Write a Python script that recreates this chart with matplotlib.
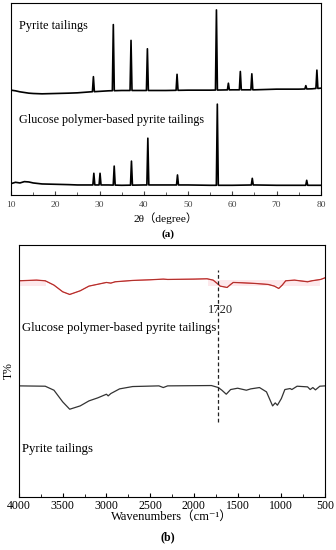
import matplotlib
matplotlib.use('Agg')
import matplotlib.pyplot as plt
from matplotlib.ticker import MultipleLocator

plt.rcParams['font.family'] = ['Liberation Serif', 'DejaVu Serif', 'Noto Sans CJK SC']

# (a) XRD: baseline points and peaks (arbitrary intensity units)
base_2theta = [10, 11, 12, 13, 14, 15, 17, 20, 23, 25, 28, 32, 35, 40, 45, 50, 55, 60, 65, 70, 75, 78, 80]
pyrite_base = [314, 312, 309, 307, 305, 304, 303, 304, 305, 306, 309, 312, 313, 313, 313, 314, 314, 315, 315, 317, 317, 318, 320]
glucose_base = [34, 38, 36, 40, 39, 36, 33, 32, 31, 30, 30, 30, 29, 30, 30, 30, 29, 29, 30, 29, 29, 29, 29]

pyrite_peaks = [28.6, 33.1, 37.1, 40.8, 47.5, 56.4, 59.1, 61.8, 64.4, 76.6, 79.1]
pyrite_heights = [45, 198, 150, 125, 48, 240, 20, 55, 48, 10, 55]
glucose_peaks = [28.7, 30.1, 33.3, 37.2, 40.9, 47.6, 56.6, 64.5, 76.8]
glucose_heights = [35, 35, 57, 72, 140, 30, 243, 20, 15]

# (b) FTIR: transmittance (arbitrary units, offset curves)
ftir_glucose_wn = [4000, 3800, 3700, 3600, 3500, 3420, 3300, 3200, 3000, 2950, 2900, 2700, 2500, 2350, 2300,
                   2000, 1850, 1780, 1720, 1700, 1660, 1620, 1580, 1550, 1450, 1300, 1150, 1080, 1030, 990,
                   950, 850, 700, 650, 550, 500]
ftir_glucose_t = [648, 650, 648, 635, 615, 607, 618, 632, 643, 641, 645, 649, 651, 653, 652,
                  653, 654, 650, 637, 632, 630, 628, 637, 643, 642, 640, 637, 632, 625, 635,
                  648, 650, 645, 648, 652, 657]
ftir_pyrite_wn = [4000, 3700, 3600, 3500, 3420, 3300, 3200, 3100, 3000, 2980, 2950, 2850, 2700, 2400, 2350,
                  2300, 1800, 1720, 1680, 1630, 1580, 1500, 1400, 1350, 1250, 1170, 1120, 1100, 1070, 1045,
                  1000, 960, 900, 880, 820, 700, 670, 640, 610, 560, 500]
ftir_pyrite_t = [333, 332, 320, 285, 263, 273, 288, 297, 308, 303, 310, 324, 331, 333, 328,
                 333, 334, 328, 320, 308, 322, 326, 320, 324, 328, 315, 285, 273, 282, 275,
                 295, 322, 325, 322, 332, 330, 322, 328, 321, 332, 333]
marker_wn = 1720


def xrd_profile(base_x, base_y, peaks, heights, w=0.22):
    # baseline plus narrow triangular peaks sitting on it
    pts = list(zip(base_x, base_y))
    for p, h in zip(peaks, heights):
        b = base_y[0]
        for i in range(len(base_x) - 1):
            if base_x[i] <= p <= base_x[i + 1]:
                f = (p - base_x[i]) / (base_x[i + 1] - base_x[i])
                b = base_y[i] + f * (base_y[i + 1] - base_y[i])
        pts += [(p - w, b), (p, b + h), (p + w, b)]
    pts.sort()
    return [q[0] for q in pts], [q[1] for q in pts]


fig = plt.figure(figsize=(3.36, 5.5), dpi=100)

# ---- (a)
ax1 = fig.add_axes([0.033, 0.6455, 0.922, 0.349])
x, y = xrd_profile(base_2theta, pyrite_base, pyrite_peaks, pyrite_heights)
ax1.plot(x, y, color='black', lw=1.2)
x, y = xrd_profile(base_2theta, glucose_base, glucose_peaks, glucose_heights)
ax1.plot(x, y, color='black', lw=1.2)
ax1.set_xlim(10, 80)
ax1.set_ylim(0, 575)
ax1.set_yticks([])
ax1.xaxis.set_major_locator(MultipleLocator(10))
ax1.xaxis.set_minor_locator(MultipleLocator(5))
ax1.tick_params(axis='x', which='both', direction='in', labelsize=6.8, colors='#444444', pad=4)
ax1.tick_params(axis='x', which='major', length=3)
ax1.tick_params(axis='x', which='minor', length=2)
ax1.set_xlabel('2θ（degree）', fontsize=8.2, labelpad=3)
ax1.text(0.025, 0.88, 'Pyrite tailings', transform=ax1.transAxes, fontsize=8.8, va='center')
ax1.text(0.025, 0.39, 'Glucose polymer-based pyrite tailings', transform=ax1.transAxes, fontsize=8.7, va='center')
fig.text(0.5, 0.574, '(a)', ha='center', va='center', fontsize=8, fontweight='bold')

# ---- (b)
ax2 = fig.add_axes([0.0565, 0.0964, 0.911, 0.458])
ax2.fill_between([4000, 3690], 632, 650, color='#fde9ec', lw=0)
ax2.fill_between([1835, 560], 632, 650, color='#fde9ec', lw=0)
ax2.plot(ftir_glucose_wn, ftir_glucose_t, color='#e8202a', lw=0.9)
ax2.plot(ftir_glucose_wn, ftir_glucose_t, color='#6b4a30', lw=0.6, alpha=0.55)
ax2.plot(ftir_pyrite_wn, ftir_pyrite_t, color='#333333', lw=0.9)
ax2.plot([marker_wn, marker_wn], [225, 680], color='#222222', lw=0.9, ls=(0, (3, 2)))
ax2.text(marker_wn - 20, 560, str(marker_wn), fontsize=9, ha='center', va='center', color='#222222')
ax2.text(3970, 505, 'Glucose polymer-based pyrite tailings', fontsize=9.2, va='center')
ax2.text(3970, 145, 'Pyrite tailings', fontsize=9.2, va='center')
ax2.set_xlim(4000, 500)
ax2.set_ylim(0, 755)
ax2.set_yticks([])
ax2.xaxis.set_major_locator(MultipleLocator(500))
ax2.xaxis.set_minor_locator(MultipleLocator(250))
ax2.tick_params(axis='x', which='both', direction='in', labelsize=8.5, pad=2)
ax2.tick_params(axis='x', which='major', length=3)
ax2.tick_params(axis='x', which='minor', length=2)
ax2.set_xlabel('Wavenumbers（cm⁻¹）', fontsize=9, labelpad=-1)
ax2.set_ylabel('T%', fontsize=8.5, labelpad=3)
fig.text(0.5, 0.024, '(b)', ha='center', va='center', fontsize=8.5, fontweight='bold')

fig.savefig('out.png', dpi=100)
